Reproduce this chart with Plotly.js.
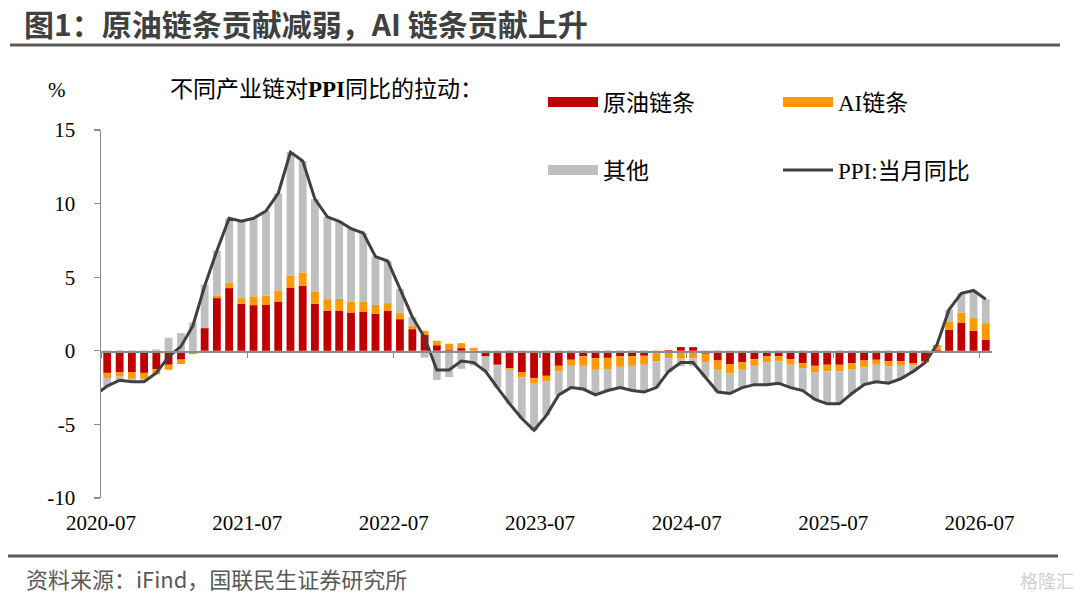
<!DOCTYPE html>
<html><head><meta charset="utf-8">
<script src="https://cdn.plot.ly/plotly-3.0.1.min.js"></script>
<style>html,body{margin:0;padding:0;background:#fff}#chart{width:1080px;height:597px}</style>
</head><body><div id="chart"></div>
<script>
const months = ['2020-07','2020-08','2020-09','2020-10','2020-11','2020-12',
'2021-01','2021-02','2021-03','2021-04','2021-05','2021-06','2021-07','2021-08','2021-09','2021-10','2021-11','2021-12',
'2022-01','2022-02','2022-03','2022-04','2022-05','2022-06','2022-07','2022-08','2022-09','2022-10','2022-11','2022-12',
'2023-01','2023-02','2023-03','2023-04','2023-05','2023-06','2023-07','2023-08','2023-09','2023-10','2023-11','2023-12',
'2024-01','2024-02','2024-03','2024-04','2024-05','2024-06','2024-07','2024-08','2024-09','2024-10','2024-11','2024-12',
'2025-01','2025-02','2025-03','2025-04','2025-05','2025-06','2025-07','2025-08','2025-09','2025-10','2025-11','2025-12',
'2026-01','2026-02','2026-03','2026-04','2026-05','2026-06','2026-07'];

const oilChain = [-1.50,-1.45,-1.45,-1.50,-1.25,-0.95,-0.60,-0.05,1.54,3.58,
4.26,3.19,3.10,3.12,3.35,4.30,4.41,3.19,2.72,2.72,
2.60,2.67,2.51,2.72,2.15,1.47,1.09,0.38,0.05,0.18,
0.02,-0.38,-0.95,-1.18,-1.47,-1.86,-1.70,-1.02,-0.61,-0.38,
-0.50,-0.48,-0.36,-0.38,-0.34,-0.11,0.05,0.25,0.25,-0.20,
-0.66,-0.91,-0.77,-0.57,-0.38,-0.38,-0.57,-0.84,-1.02,-0.95,
-0.95,-0.84,-0.66,-0.61,-0.72,-0.72,-0.84,-0.72,0.05,1.43,
1.92,1.36,0.75];

const aiChain = [-0.35,-0.30,-0.45,-0.40,-0.35,-0.34,-0.30,-0.18,-0.10,0.16,
0.34,0.39,0.60,0.62,0.75,0.82,0.91,0.84,0.79,0.81,
0.75,0.64,0.61,0.52,0.41,0.25,0.27,0.30,0.43,0.34,
0.18,-0.02,-0.03,-0.11,-0.32,-0.38,-0.38,-0.38,-0.41,-0.64,
-0.79,-0.76,-0.73,-0.64,-0.61,-0.61,-0.50,-0.54,-0.50,-0.57,
-0.63,-0.61,-0.52,-0.45,-0.39,-0.34,-0.38,-0.34,-0.45,-0.45,
-0.45,-0.41,-0.45,-0.34,-0.34,-0.30,-0.16,-0.10,0.35,0.56,
0.68,0.86,1.13];

const others = [-0.55,-0.25,-0.20,-0.20,0.10,0.89,1.20,1.93,2.96,3.06,
4.40,5.22,5.30,5.76,6.60,8.38,7.58,6.27,5.59,5.27,
4.95,4.69,3.28,2.86,1.64,0.58,-0.46,-1.98,-1.78,-1.22,
-1.00,-1.00,-1.52,-2.31,-2.81,-3.16,-2.32,-1.60,-1.48,-1.58,
-1.71,-1.46,-1.41,-1.68,-1.85,-1.78,-0.95,-0.51,-0.55,-1.03,
-1.51,-1.38,-1.21,-1.28,-1.53,-1.48,-1.55,-1.52,-1.83,-2.20,
-2.20,-1.65,-1.19,-1.15,-1.14,-0.88,-0.40,0.02,0.00,0.81,
1.30,1.88,1.62];

// PPI line starts one month earlier (2020-06); that point lies left of the axis and is clipped
const ppiMonths = ['2020-06'].concat(months);
const ppiYoY = [-3.0,
-2.4,-2.0,-2.1,-2.1,-1.5,-0.4,0.3,1.7,4.4,6.8,
9.0,8.8,9.0,9.5,10.7,13.5,12.9,10.3,9.1,8.8,
8.3,8.0,6.4,6.1,4.2,2.3,0.9,-1.3,-1.3,-0.7,
-0.8,-1.4,-2.5,-3.6,-4.6,-5.4,-4.4,-3.0,-2.5,-2.6,
-3.0,-2.7,-2.5,-2.7,-2.8,-2.5,-1.4,-0.8,-0.8,-1.8,
-2.8,-2.9,-2.5,-2.3,-2.3,-2.2,-2.5,-2.7,-3.3,-3.6,
-3.6,-2.9,-2.3,-2.1,-2.2,-1.9,-1.4,-0.8,0.4,2.8,
3.9,4.1,3.5];

const seriesNames = ['原油链条','AI链条','其他','PPI:当月同比'];
const yTicks = [-10,-5,0,5,10,15];

const RED = '#C00000', ORANGE = '#FF9900', GRAY = '#BFBFBF', LINE = '#404040';
const SERIF = "'Liberation Serif','Times New Roman','Noto Sans CJK SC',serif";
const SANS = "'Noto Sans CJK SC','Noto Sans',sans-serif";

// plot area in pixels
const L = 101, R = 992, T = 130, B = 498;
const px2x = p => (p - L) / (R - L);
const px2y = p => (B - p) / (B - T);

const xStart = months[0] + '-01';
const xEnd = '2026-08-01';

function barTrace(name, vals, color) {
  return {type:'bar', name:name, x:months, y:vals, xperiod:'M1', xperiodalignment:'middle',
    marker:{color:color, line:{width:0}}, showlegend:false, hovertemplate:'%{x|%Y-%m}: %{y}<extra>'+name+'</extra>'};
}
function legendDummy(name, color, width, leg) {
  return {type:'scatter', mode:'lines', name:name, x:[null], y:[null], line:{color:color, width:width},
    legend:leg, hoverinfo:'skip'};
}

const data = [
  barTrace(seriesNames[0], oilChain, RED),
  barTrace(seriesNames[1], aiChain, ORANGE),
  barTrace(seriesNames[2], others, GRAY),
  legendDummy(seriesNames[0], RED, 10, 'legend'),
  legendDummy(seriesNames[1], ORANGE, 10, 'legend'),
  legendDummy(seriesNames[2], GRAY, 10, 'legend2'),
  {type:'scatter', mode:'lines', name:seriesNames[3], x:ppiMonths, y:ppiYoY, xperiod:'M1', xperiodalignment:'middle',
   xaxis:'x2', yaxis:'y', line:{color:LINE, width:3}, legend:'legend2'}
];

const legendCommon = {orientation:'h', xanchor:'left', yanchor:'middle', bgcolor:'rgba(0,0,0,0)',
  font:{family:SERIF, size:23, color:'#000'}, entrywidth:170, itemwidth:50, traceorder:'normal'};

const layout = {
  width:1080, height:597,
  margin:{l:L, r:1080-R, t:T, b:597-B, pad:0},
  paper_bgcolor:'#fff', plot_bgcolor:'#fff',
  barmode:'relative', bargap:0.34,
  showlegend:true,
  title:{text:'图1：原油链条贡献减弱，AI 链条贡献上升', xref:'container', yref:'container',
    x:24/1080, xanchor:'left', y:1-25/597, yanchor:'middle',
    font:{family:SANS, size:30, color:'#404040', weight:700}},
  xaxis:{type:'date', range:[xStart, xEnd], tick0:xStart, dtick:'M12', tickformat:'%Y-%m',
    showline:false, showgrid:false, zeroline:false, ticks:'', ticklabelstandoff:10,
    tickfont:{family:SERIF, size:21, color:'#000'}, fixedrange:true},
  xaxis2:{type:'date', overlaying:'x', anchor:'free', position:px2y(351) , range:[xStart, xEnd],
    tick0:xStart, dtick:'M12', showticklabels:false, showline:true, linecolor:'#8C8C8C', linewidth:1.5,
    ticks:'outside', ticklen:5, tickcolor:'#8C8C8C', tickwidth:1.2, showgrid:false, zeroline:false, fixedrange:true},
  yaxis:{range:[-10,15], tickmode:'array', tickvals:yTicks, ticktext:yTicks.map(String),
    showline:true, linecolor:'#8C8C8C', linewidth:1.5, ticks:'outside', ticklen:6, tickcolor:'#8C8C8C', tickwidth:1.2,
    showgrid:false, zeroline:false, ticklabelstandoff:14,
    tickfont:{family:SERIF, size:21, color:'#000'}, fixedrange:true},
  legend:Object.assign({}, legendCommon, {x:px2x(543), y:px2y(102)}),
  legend2:Object.assign({}, legendCommon, {x:px2x(543), y:px2y(170)}),
  shapes:[
    {type:'line', xref:'paper', yref:'paper', x0:px2x(10), x1:px2x(1060), y0:px2y(45), y1:px2y(45),
     line:{color:'#595959', width:3}},
    {type:'line', xref:'paper', yref:'paper', x0:px2x(8), x1:px2x(1058), y0:px2y(556), y1:px2y(556),
     line:{color:'#595959', width:3}}
  ],
  annotations:[
    {text:'%', xref:'paper', yref:'paper', x:px2x(57), y:px2y(90), xanchor:'center', yanchor:'middle',
     showarrow:false, font:{family:SERIF, size:21, color:'#000'}},
    {text:'不同产业链对<b>PPI</b>同比的拉动：', xref:'paper', yref:'paper', x:px2x(168), y:px2y(90),
     xanchor:'left', yanchor:'middle', showarrow:false, font:{family:SERIF, size:23, color:'#000'}},
    {text:'资料来源：iFind，国联民生证券研究所', xref:'paper', yref:'paper', x:px2x(24), y:px2y(578),
     xanchor:'left', yanchor:'middle', showarrow:false, font:{family:SANS, size:22, color:'#595959'}},
    {text:'格隆汇', xref:'paper', yref:'paper', x:px2x(1076), y:px2y(580),
     xanchor:'right', yanchor:'middle', showarrow:false, font:{family:SANS, size:18, color:'#D0D0D0'}}
  ]
};

Plotly.newPlot('chart', data, layout, {displayModeBar:false, staticPlot:true});
</script>
</body></html>
